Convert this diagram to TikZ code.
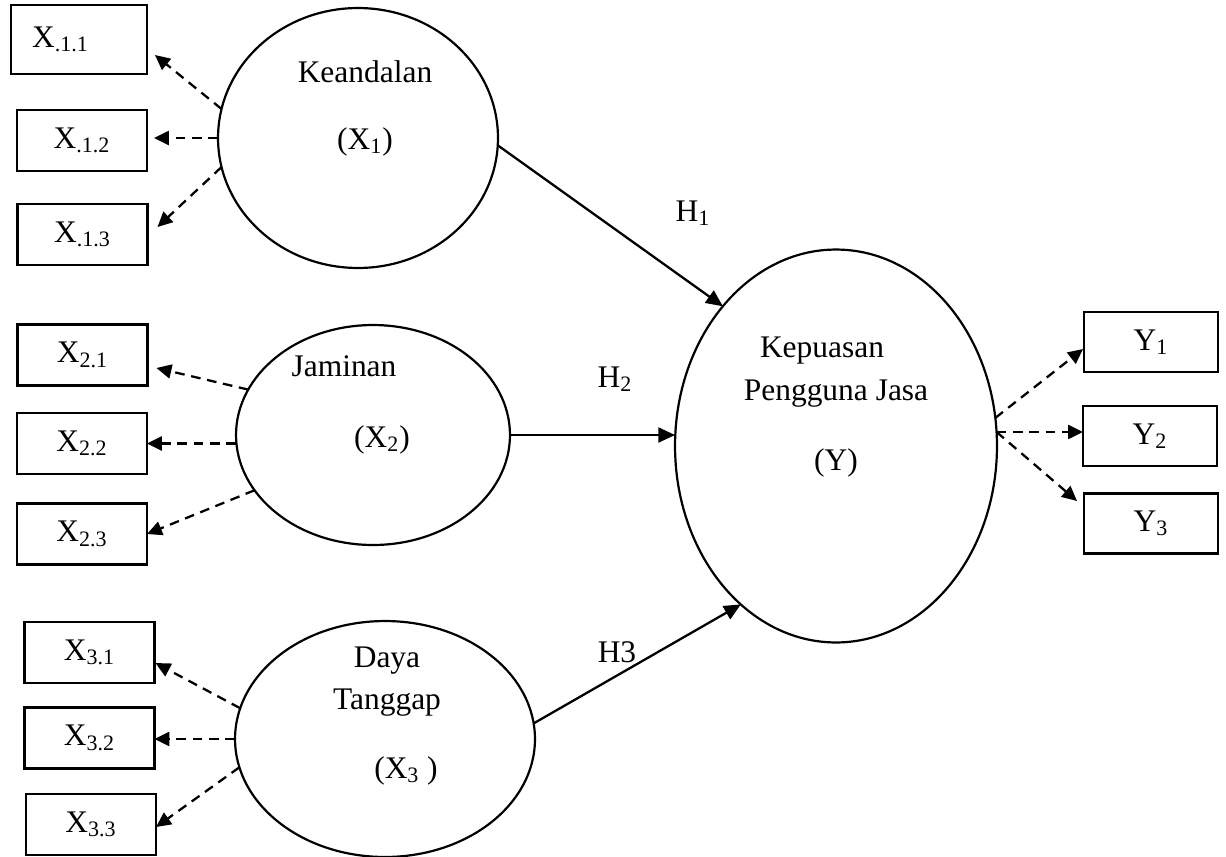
\documentclass[tikz,border=0pt]{standalone}
\usepackage{fontspec}
\setmainfont{Liberation Serif}
\usepackage{tikz}
\usetikzlibrary{arrows.meta, shapes.geometric}

\begin{document}
\begin{tikzpicture}[
    x=0.02cm, y=-0.02cm,
    font=\fontsize{17.9}{21}\selectfont,
    box/.style={
        rectangle,
        draw,
        line width=1.25pt,
        minimum width=2.6cm,
        minimum height=1.22cm,
        inner sep=0pt,
        outer sep=0pt
    },
    latent/.style={
        ellipse,
        draw,
        line width=1.25pt,
        inner sep=0pt,
        outer sep=0pt
    },
    loading/.style={
        -{Triangle[length=8.5pt, width=8pt]},
        dash pattern=on 5.5pt off 3.8pt,
        line width=1.3pt
    },
    hyp/.style={
        -{Triangle[length=9.5pt, width=8.5pt]},
        line width=1.3pt
    },
    txt/.style={anchor=base, inner sep=0pt}
]
\useasboundingbox (0,0) rectangle (1226,856);

% === Latent variables ===
\node[latent, minimum width=5.6cm, minimum height=5.2cm] (kean) at (358,138) {};
\node[latent, minimum width=5.48cm, minimum height=4.4cm] (jam) at (373,435) {};
\node[latent, minimum width=6.0cm, minimum height=4.72cm] (daya) at (385,739) {};
\node[latent, minimum width=6.44cm, minimum height=7.86cm] (kep) at (836,446) {};

\node[txt] (keanA) at (365,82) {Keandalan};
\node[txt] (keanB) at (365,149) {(X\textsubscript{1})};
\node[txt] (jamA) at (344,376) {Jaminan};
\node[txt] (jamB) at (382,447) {(X\textsubscript{2})};
\node[txt] (dayaA) at (387,667) {Daya};
\node[txt] (dayaB) at (387,709) {Tanggap};
\node[txt] (dayaC) at (406,778) {(X\textsubscript{3} )};
\node[txt] (kepA) at (822,357) {Kepuasan};
\node[txt] (kepB) at (836,400) {Pengguna Jasa};
\node[txt] (kepC) at (836,470) {(Y)};

% === Indicators ===
\node[box, minimum width=2.72cm, minimum height=1.38cm] (x11) at (79,39.5) {\hspace*{-21pt}X\textsubscript{.1.1}};
\node[box] (x12) at (82,140.5) {X\textsubscript{.1.2}};
\node[box] (x13) at (82.5,234.5) {X\textsubscript{.1.3}};
\node[box] (x21) at (82.5,355) {X\textsubscript{2.1}};
\node[box] (x22) at (82,443.5) {X\textsubscript{2.2}};
\node[box] (x23) at (82,534) {X\textsubscript{2.3}};
\node[box] (x31) at (89.5,652.5) {X\textsubscript{3.1}};
\node[box] (x32) at (89.5,738) {X\textsubscript{3.2}};
\node[box] (x33) at (91,824.5) {X\textsubscript{3.3}};
\node[box, minimum width=2.68cm, minimum height=1.2cm] (y1) at (1151,342) {Y\textsubscript{1}};
\node[box, minimum width=2.68cm, minimum height=1.2cm] (y2) at (1150,436) {Y\textsubscript{2}};
\node[box, minimum width=2.68cm, minimum height=1.2cm] (y3) at (1151,523.5) {Y\textsubscript{3}};

% === Loadings ===
\draw[loading] (kean.168.7) -- ([shift={(8,15.5)}]x11.east);
\draw[loading, shorten >=4pt] (kean.west) -- (kean.west -| x12.east);
\draw[loading] (kean.192.1) -- ([shift={(10,-7.5)}]x13.east);

\draw[loading] (jam.160.7) -- ([shift={(9,13)}]x21.east);
\draw[loading] (jam.west |- x22.east) -- (x22.east);
\draw[loading] (jam.205.4) -- (x23.east);

\draw[loading] (daya.168.2) -- ([shift={(1,10.5)}]x31.east);
\draw[loading] (daya.west) -- (daya.west -| x32.east);
\draw[loading] (daya.191.4) -- ([shift={(0,2.5)}]x33.east);

\draw[loading] (kep.10.5) -- ([shift={(-1,7)}]y1.west);
\draw[loading] (kep.5.6) -- (kep.5.6 -| y2.west);
\draw[loading] (kep.5.6) -- ([shift={(-7,-22.5)}]y3.west);

% === Hypotheses ===
\draw[hyp] (kean.357) -- (kep.129.5);
\draw[hyp] (jam.east) -- (jam.east -| kep.west);
\draw[hyp] (daya.6.5) -- (kep.239.3);

\node[txt] (h1) at (693,221) {H\textsubscript{1}};
\node[txt] (h2) at (615,387) {H\textsubscript{2}};
\node[txt] (h3) at (617,662) {H3};

\end{tikzpicture}
\end{document}
